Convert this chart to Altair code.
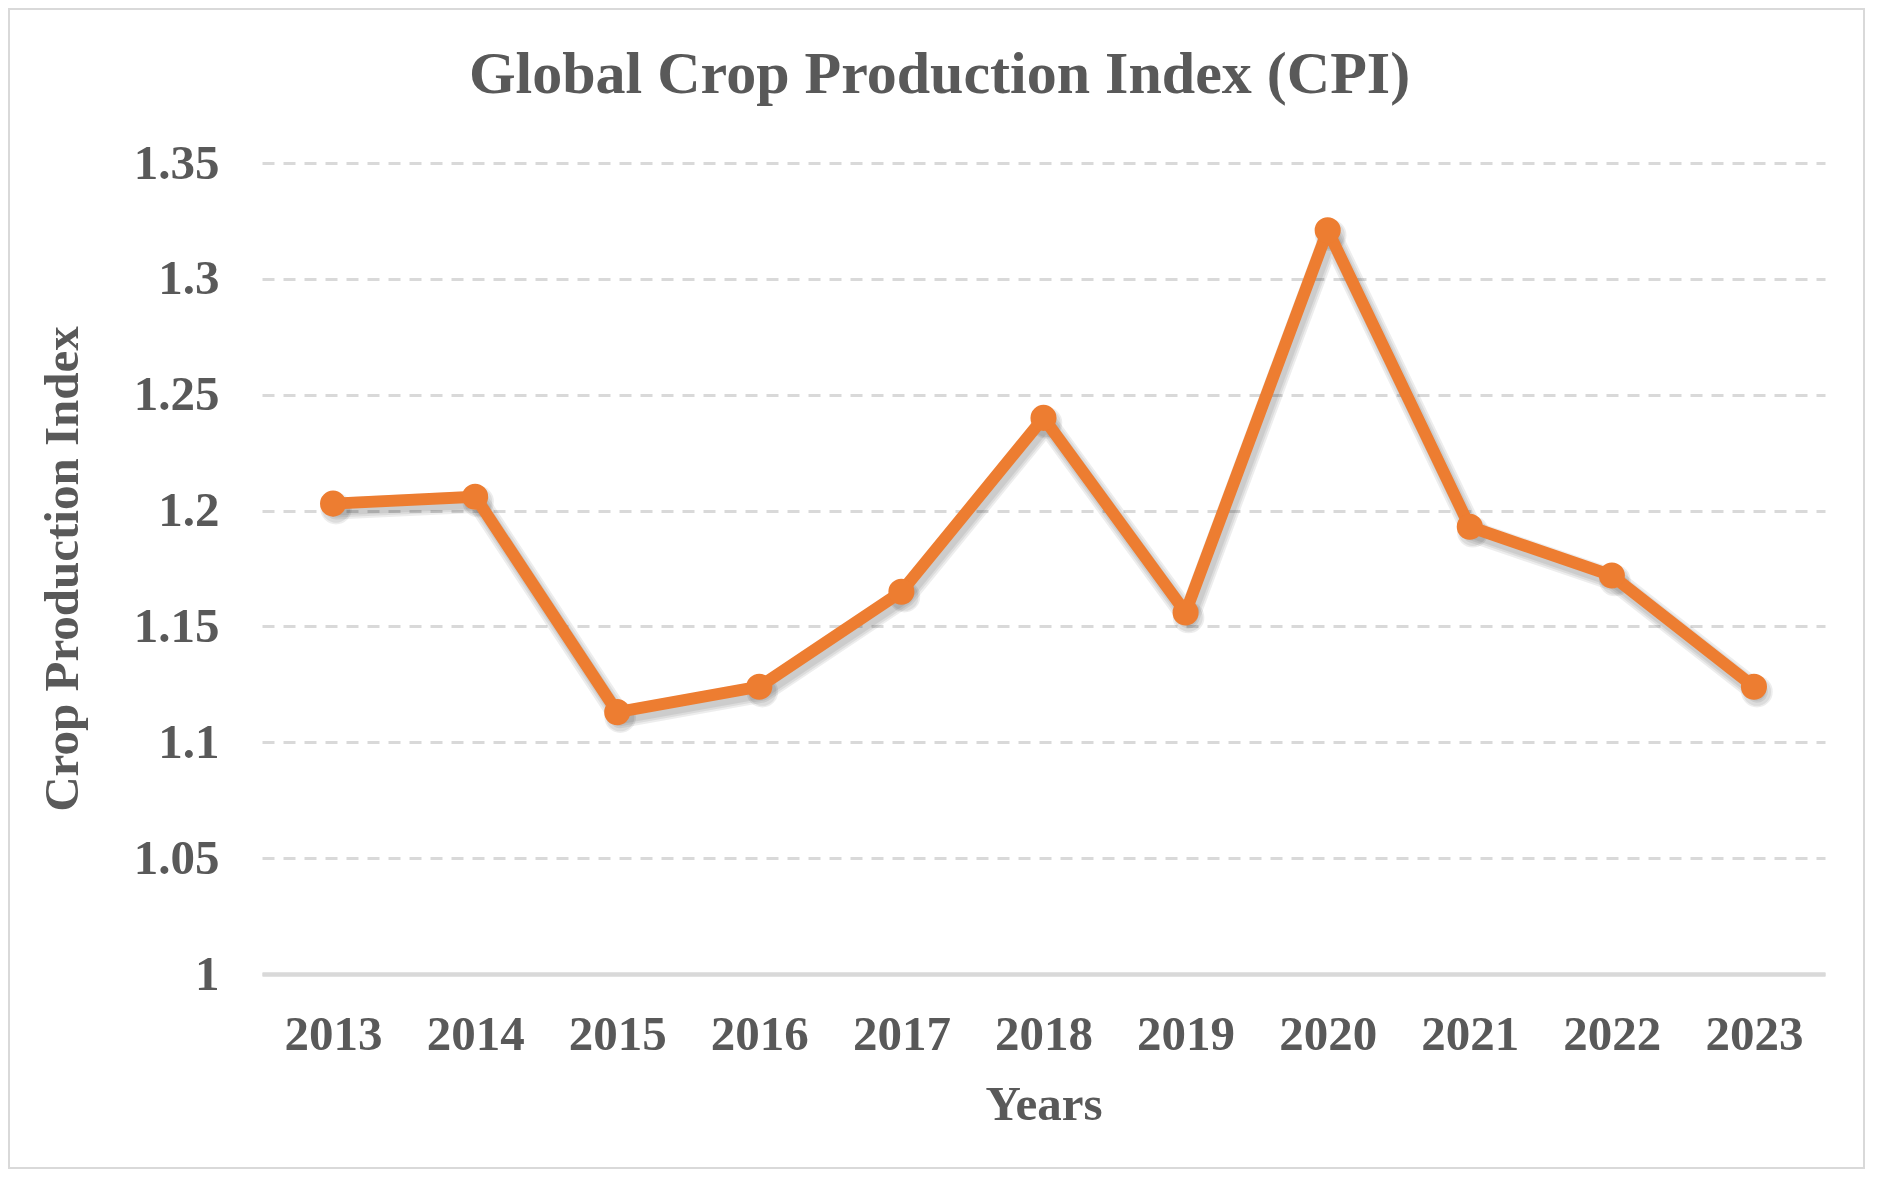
import altair as alt
import pandas as pd

years = ["2013", "2014", "2015", "2016", "2017", "2018", "2019", "2020", "2021", "2022", "2023"]
cpi = [1.203, 1.206, 1.113, 1.124, 1.165, 1.240, 1.156, 1.321, 1.193, 1.172, 1.124]
y_ticks = [1.0, 1.05, 1.1, 1.15, 1.2, 1.25, 1.3, 1.35]

df = pd.DataFrame({"Year": years, "CPI": cpi})

W, H = 1563, 811
PL, PT, PR, PB = 254, 155, 40, 195
TEXT = "#595959"
FONT = "Liberation Serif"
ORANGE = "#ED7D31"

base = alt.Chart(df).encode(
    x=alt.X(
        "Year:O",
        sort=years,
        scale=alt.Scale(type="point", padding=0.5),
        axis=alt.Axis(
            title="Years",
            labelAngle=0,
            ticks=False,
            grid=False,
            domain=True,
            domainColor="#d9d9d9",
            domainWidth=4.5,
            labelPadding=60,
            labelBaseline="middle",
            titleX=W / 2,
            titleY=130,
            titleBaseline="middle",
            titleAlign="center",
        ),
    ),
    y=alt.Y(
        "CPI:Q",
        scale=alt.Scale(domain=[1.0, 1.35], nice=False, zero=False),
        axis=alt.Axis(
            title="Crop Production Index",
            values=y_ticks,
            format=".2~f",
            ticks=False,
            domain=False,
            grid=True,
            gridColor="#d9d9d9",
            gridDash=[12, 9],
            gridWidth=3,
            labelPadding=43,
            labelBaseline="middle",
            titleAngle=270,
            titleX=-200,
            titleY=H / 2,
            titleAlign="center",
            titleBaseline="middle",
        ),
    ),
)

# soft drop shadow, built from a few faint offset strokes
shadows = [
    base.mark_line(color="#000000", opacity=0.07, strokeWidth=w, strokeJoin="round",
                   strokeCap="round", xOffset=3, yOffset=5)
    for w in (22, 18, 14)
]
shadow_pts = [
    base.mark_circle(color="#000000", opacity=0.07, size=s, xOffset=3, yOffset=5)
    for s in (1000, 800)
]
line = base.mark_line(color=ORANGE, strokeWidth=12, strokeJoin="round")
pts = base.mark_circle(color=ORANGE, size=680, opacity=1)

border = alt.Chart(pd.DataFrame({"a": [0]})).mark_rect(
    fillOpacity=0, stroke="#d9d9d9", strokeWidth=2
).encode(
    x=alt.value(-PL + 1),
    x2=alt.value(W + PR - 1),
    y=alt.value(-PT + 1),
    y2=alt.value(H + PB - 1),
)

chart = (
    alt.layer(border, *shadows, *shadow_pts, line, pts)
    .properties(
        width=W,
        height=H,
        autosize=alt.AutoSizeParams(type="none"),
        padding={"left": PL, "top": PT, "right": PR, "bottom": PB},
        title=alt.TitleParams(
            "Global Crop Production Index (CPI)",
            font=FONT,
            fontSize=60,
            fontWeight="bold",
            color=TEXT,
            anchor="middle",
            frame="group",
            dx=-104,
            dy=215,
            offset=70,
            baseline="alphabetic",
        ),
    )
    .configure_view(stroke=None)
    .configure_axis(
        labelFont=FONT,
        labelFontSize=49,
        labelFontWeight="bold",
        labelColor=TEXT,
        titleFont=FONT,
        titleFontSize=49,
        titleFontWeight="bold",
        titleColor=TEXT,
    )
)

chart.save("out.html", embed_options={"renderer": "svg", "actions": False})
